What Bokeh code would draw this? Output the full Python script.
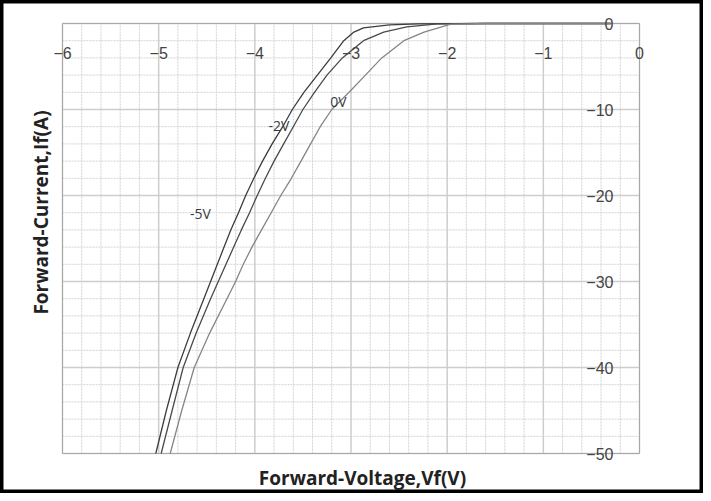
import math
from bokeh.plotting import figure
from bokeh.models import Range1d
from bokeh.core.properties import value
from bokeh.embed import file_html
from bokeh.resources import INLINE

# ---- data ----
y_pts = [0, 0, -0.05, -0.15, -0.5, -1, -2, -4, -6, -8, -10, -12, -14, -16,
         -18, -20, -22, -24, -26, -28, -30, -32, -36, -40, -45, -50]
x_m5v = [-0.3, -1.6, -2.3, -2.6, -2.87, -2.97, -3.075, -3.21, -3.35, -3.49,
         -3.61, -3.71, -3.82, -3.92, -4.01, -4.095, -4.17, -4.25, -4.32, -4.39,
         -4.46, -4.53, -4.67, -4.80, -4.92, -5.03]
y_m2v = [0, 0, -0.05, -0.4, -1, -2, -4, -6, -8, -10, -12, -14, -16, -18, -20,
         -22, -24, -26, -28, -30, -32, -36, -40, -45, -50]
x_m2v = [-0.3, -1.6, -2.1, -2.42, -2.66, -2.87, -3.09, -3.25, -3.38, -3.50,
         -3.60, -3.70, -3.80, -3.89, -3.975, -4.055, -4.14, -4.22, -4.30,
         -4.38, -4.46, -4.61, -4.745, -4.86, -4.974]
y_0v = [0, 0, -0.1, -1, -2, -4, -6, -8, -10, -12, -14, -16, -18, -20, -22,
        -24, -26, -28, -30, -32, -36, -40, -45, -50]
x_0v = [-0.3, -1.6, -1.97, -2.24, -2.45, -2.68, -2.85, -3.02, -3.20, -3.32,
        -3.42, -3.52, -3.62, -3.73, -3.83, -3.93, -4.03, -4.12, -4.20, -4.29,
        -4.47, -4.63, -4.76, -4.88]

series_names = ["-5V", "-2V", "0V"]
label_x = [-4.565, -3.75, -3.13]
label_y = [-22.1, -11.9, -9.1]

x_ticks = [-6, -5, -4, -3, -2, -1, 0]
x_tick_labels = ["\u22126", "\u22125", "\u22124", "\u22123", "\u22122", "\u22121", "0"]
y_ticks = [0, -10, -20, -30, -40, -50]
y_tick_labels = ["0", "\u221210", "\u221220", "\u221230", "\u221240", "\u221250"]
minor_per_major = 5

x_title = "Forward-Voltage,Vf(V)"
y_title = "Forward-Current,If(A)"

# ---- layout: plot box pixel position inside the canvas ----
W, H = 703, 493
box_l, box_r, box_t, box_b = 62, 639, 23, 453
x0, x1 = min(x_ticks), max(x_ticks)
y0, y1 = min(y_ticks), max(y_ticks)
kx = (box_r - box_l) / (x1 - x0)
ky = (box_b - box_t) / (y1 - y0)
xr = Range1d(x0 - box_l / kx, x1 + (W - box_r) / kx)
yr = Range1d(y0 - (H - box_b) / ky, y1 + box_t / ky)

p = figure(width=W, height=H, output_backend="svg", toolbar_location=None,
           x_range=xr, y_range=yr, x_axis_location=None, y_axis_location=None,
           min_border=0)
p.grid.visible = False
p.background_fill_color = "white"
p.border_fill_color = "white"
p.outline_line_color = "black"
p.outline_line_width = 6

# grid (minor dashed, major solid), bounded to the plot box
dx = (x_ticks[1] - x_ticks[0]) / minor_per_major
dy = (y_ticks[0] - y_ticks[1]) / minor_per_major
mx = [x0 + i * dx for i in range(int(round((x1 - x0) / dx)) + 1)]
my = [y0 + i * dy for i in range(int(round((y1 - y0) / dy)) + 1)]
mx = [v for v in mx if all(abs(v - t) > 1e-9 for t in x_ticks)]
my = [v for v in my if all(abs(v - t) > 1e-9 for t in y_ticks)]
p.segment(x0=mx, x1=mx, y0=[y0] * len(mx), y1=[y1] * len(mx),
          line_color="#d2d2d2", line_width=1, line_dash="2 1")
p.segment(x0=[x0] * len(my), x1=[x1] * len(my), y0=my, y1=my,
          line_color="#d2d2d2", line_width=1, line_dash="2 1")
p.segment(x0=x_ticks, x1=x_ticks, y0=[y0] * len(x_ticks), y1=[y1] * len(x_ticks),
          line_color="#cdcdcd", line_width=1.5)
p.segment(x0=[x0] * len(y_ticks), x1=[x1] * len(y_ticks), y0=y_ticks, y1=y_ticks,
          line_color="#cdcdcd", line_width=1.5)
p.quad(left=[x0], right=[x1], bottom=[y0], top=[y1], fill_color=None,
       line_color="#a8a8a8", line_width=1)

colors = ["#3c3c3c", "#4a4a4a", "#858585"]
for xs, ys, c in ((x_m5v, y_pts, colors[0]), (x_m2v, y_m2v, colors[1]),
                  (x_0v, y_0v, colors[2])):
    p.line(xs, ys, line_color=c, line_width=1.3)

p.text(x=label_x, y=label_y, text=series_names, text_align="center",
       text_baseline="middle", text_font=value("Open Sans"),
       text_font_size="14px", text_color="#363b45")

# tick labels drawn inside the box like the reference
p.text(x=x_ticks, y=[y1 - 29 / ky] * len(x_ticks), text=x_tick_labels,
       text_align="center", text_baseline="middle",
       text_font=value("Liberation Sans"), text_font_size="16px",
       text_color="#444444")
p.text(x=[x1 - 26 / kx] * len(y_ticks), y=y_ticks, text=y_tick_labels,
       text_align="right", text_baseline="middle",
       text_font=value("Liberation Sans"), text_font_size="16px",
       text_color="#444444")

# axis titles
p.text(x=[x0 + (362 - box_l) / kx], y=[y0 - 24 / ky], text=[x_title],
       text_align="center", text_baseline="middle",
       text_font=value("Open Sans"), text_font_style="bold",
       text_font_size="19px", text_color="#222222")
p.text(x=[x0 - 22 / kx], y=[y1 - (212 - box_t) / ky], text=[y_title],
       angle=math.pi / 2, text_align="center", text_baseline="middle",
       text_font=value("Open Sans"), text_font_style="bold",
       text_font_size="19px", text_color="#222222")

open("out.html", "w").write(file_html(p, INLINE))
